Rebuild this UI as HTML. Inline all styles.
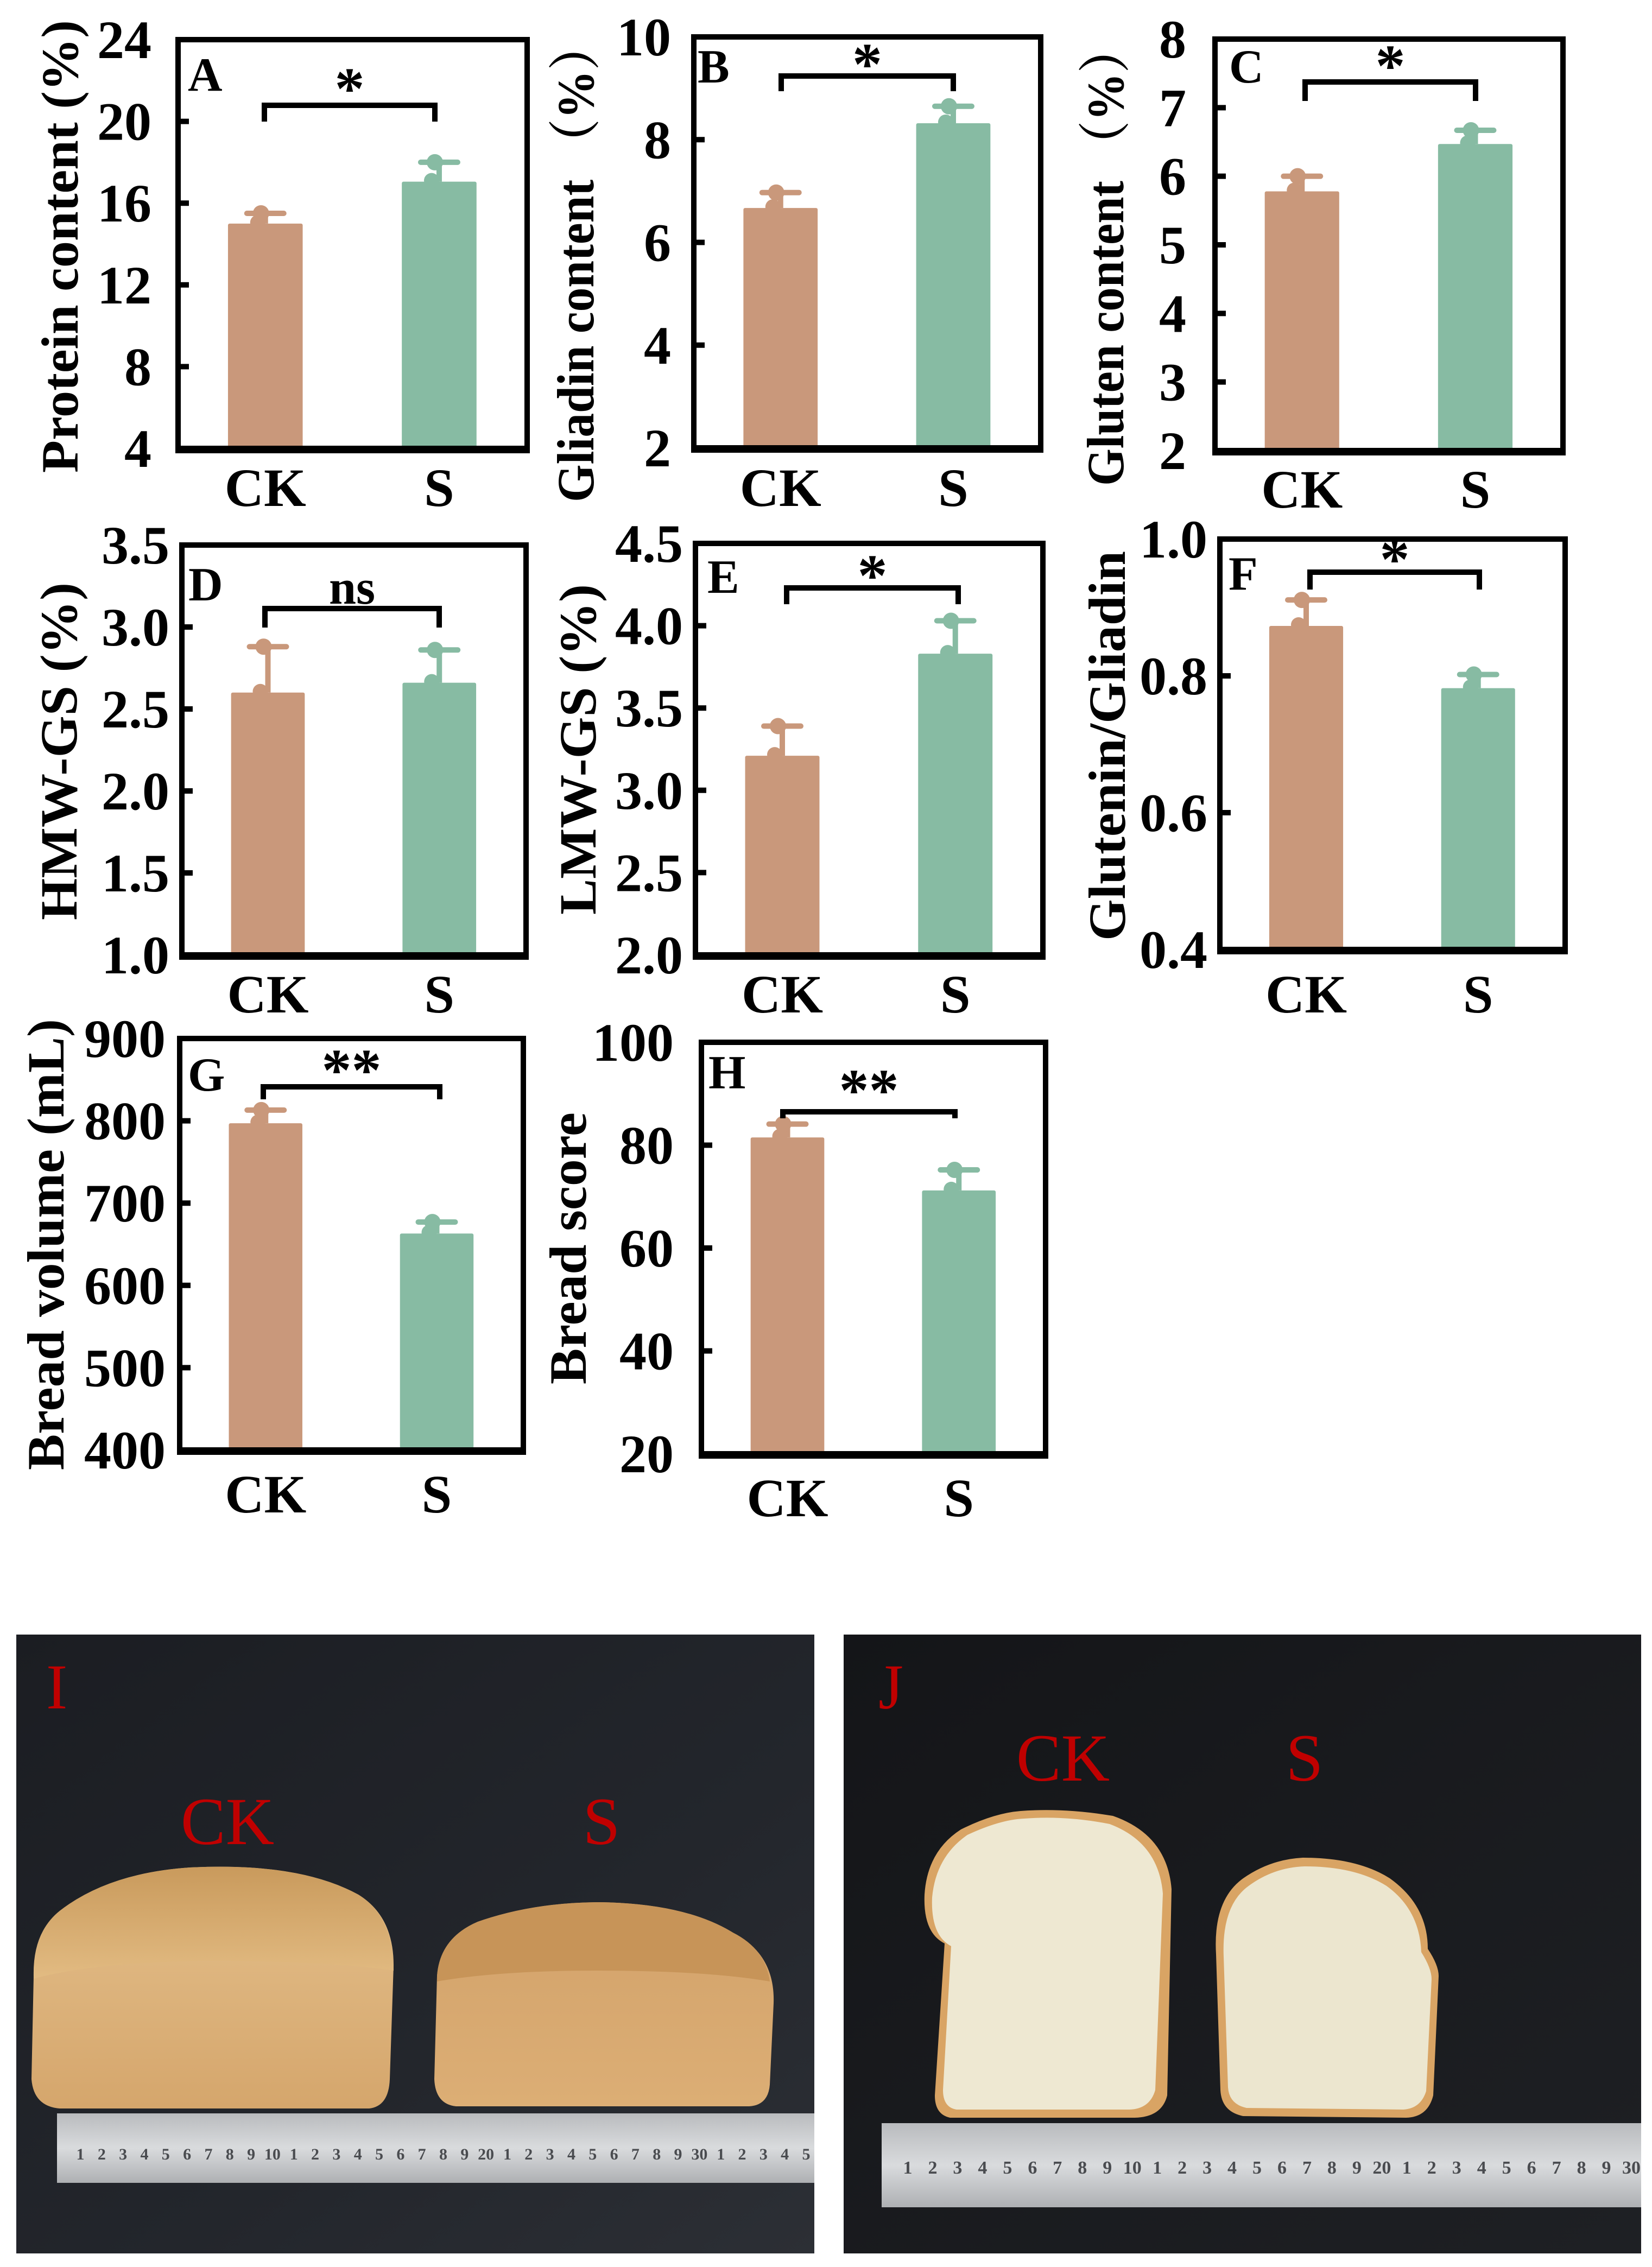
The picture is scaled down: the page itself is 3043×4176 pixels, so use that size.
<!DOCTYPE html>
<html><head><meta charset="utf-8">
<style>
html,body{margin:0;padding:0;background:#fff;}
svg{display:block;}
text{font-family:"Liberation Serif","Times New Roman",serif;}
</style></head>
<body>
<svg id="fig" width="3043" height="4176" viewBox="0 0 3043 4176" xmlns="http://www.w3.org/2000/svg">
<defs>
<linearGradient id="bgI" x1="0" y1="0" x2="1" y2="1"><stop offset="0" stop-color="#1b1d22"/><stop offset="0.6" stop-color="#23262c"/><stop offset="1" stop-color="#2c2f35"/></linearGradient>
<linearGradient id="bgJ" x1="0" y1="0" x2="1" y2="1"><stop offset="0" stop-color="#141518"/><stop offset="1" stop-color="#1e2024"/></linearGradient>
<linearGradient id="crustTop" x1="0" y1="0" x2="0" y2="1"><stop offset="0" stop-color="#c99a5c"/><stop offset="1" stop-color="#e2bb82"/></linearGradient>
<linearGradient id="crustSide" x1="0" y1="0" x2="0" y2="1"><stop offset="0" stop-color="#e4c08c"/><stop offset="1" stop-color="#d5a66c"/></linearGradient>
<linearGradient id="sideS" x1="0" y1="0" x2="0" y2="1"><stop offset="0" stop-color="#d2a26a"/><stop offset="1" stop-color="#dcae75"/></linearGradient>
<linearGradient id="ruler" x1="0" y1="0" x2="0" y2="1"><stop offset="0" stop-color="#b9bbbe"/><stop offset="0.5" stop-color="#d9dbdd"/><stop offset="1" stop-color="#aeb0b3"/></linearGradient>
</defs>
<g id="charts"></g>
<g id="photos"></g>
</svg>
<script>
const NS = 'http://www.w3.org/2000/svg';
const categories = ['CK', 'S'];
const colors = ['#c9987b', '#87bba3'];

const valuesA = [15.0, 17.05];  const errorsA = [0.5, 0.95];  const ticksA = [4, 8, 12, 16, 20, 24];
const valuesB = [6.67, 8.32];   const errorsB = [0.3, 0.33];  const ticksB = [2, 4, 6, 8, 10];
const valuesC = [5.78, 6.47];   const errorsC = [0.22, 0.2];  const ticksC = [2, 3, 4, 5, 6, 7, 8];
const valuesD = [2.60, 2.66];   const errorsD = [0.28, 0.2];  const ticksD = [1.0, 1.5, 2.0, 2.5, 3.0, 3.5];
const valuesE = [3.21, 3.83];   const errorsE = [0.18, 0.2];  const ticksE = [2.0, 2.5, 3.0, 3.5, 4.0, 4.5];
const valuesF = [0.873, 0.782]; const errorsF = [0.038, 0.02]; const ticksF = [0.4, 0.6, 0.8, 1.0];
const valuesG = [797, 663];     const errorsG = [16, 14];     const ticksG = [400, 500, 600, 700, 800, 900];
const valuesH = [81.5, 71.2];   const errorsH = [2.6, 4.0];   const ticksH = [20, 40, 60, 80, 100];
const sigLabels = ['*', '*', '*', 'ns', '*', '*', '**', '**'];
const yTitles = ['Protein content (%)', 'Gliadin content （%）', 'Gluten content （%）', 'HMW-GS (%)', 'LMW-GS (%)', 'Glutenin/Gliadin', 'Bread volume (mL)', 'Bread score'];

const panels = [
 {id:'A', v:valuesA, e:errorsA, t:ticksA, dec:0, L:328, R:971, T:73, B:826, lx:279, tx:109, ty0:37, ty1:871, catY:932, ltx:346, lty:167, brY:194, brD:30, brX0:487, brX1:801, sY:158},
 {id:'B', v:valuesB, e:errorsB, t:ticksB, dec:0, L:1278, R:1917, T:68, B:825, lx:1236, tx:1059, ty0:40, ty1:925, catY:932, ltx:1285, lty:152, brY:140, brD:28, brX0:1439, brX1:1756, sY:113},
 {id:'C', v:valuesC, e:errorsC, t:ticksC, dec:0, L:2238, R:2879, T:72, B:830, lx:2185, tx:2035, ty0:46, ty1:895, catY:935, ltx:2264, lty:152, brY:151, brD:35, brX0:2404, brX1:2718, sY:116},
 {id:'D', v:valuesD, e:errorsD, t:ticksD, dec:1, L:335, R:969, T:1004, B:1759, lx:312, tx:107, ty0:1073, ty1:1695, catY:1865, ltx:347, lty:1106, brY:1121, brD:35, brX0:488, brX1:809, sY:1086},
 {id:'E', v:valuesE, e:errorsE, t:ticksE, dec:1, L:1281, R:1921, T:1001, B:1759, lx:1258, tx:1063, ty0:1076, ty1:1685, catY:1865, ltx:1303, lty:1092, brY:1083, brD:30, brX0:1449, brX1:1765, sY:1055},
 {id:'F', v:valuesF, e:errorsF, t:ticksF, dec:1, L:2247, R:2883, T:993, B:1749, lx:2224, tx:2038, ty0:1015, ty1:1733, catY:1865, ltx:2263, lty:1086, brY:1054, brD:32, brX0:2413, brX1:2725, sY:1025},
 {id:'G', v:valuesG, e:errorsG, t:ticksG, dec:0, L:331, R:964, T:1913, B:2671, lx:305, tx:83, ty0:1877, ty1:2708, catY:2786, ltx:346, lty:2009, brY:2002, brD:23, brX0:485, brX1:810, sY:1966},
 {id:'H', v:valuesH, e:errorsH, t:ticksH, dec:0, L:1292, R:1926, T:1920, B:2678, lx:1241, tx:1045, ty0:2049, ty1:2550, catY:2793, ltx:1305, lty:2005, brY:2048, brD:12, brX0:1442, brX1:1759, sY:2003}
];
const barCenterFrac = [0.25, 0.748];
const barWidthFrac = 0.214;

function mk(tag, attrs, parent) {
  const el = document.createElementNS(NS, tag);
  for (const k in attrs) el.setAttribute(k, attrs[k]);
  parent.appendChild(el);
  return el;
}
const chartsG = document.getElementById('charts');

panels.forEach((p, pi) => {
  const g = mk('g', {}, chartsG);
  
  
  const lo = p.t[0], hi = p.t[p.t.length - 1];
  const y = v => p.B - (v - lo) / (hi - lo) * (p.B - p.T);
  const W = p.R - p.L;
  const xc = i => p.L + barCenterFrac[i] * W;
  const bw = barWidthFrac * W;

  p.v.forEach((val, i) => {
    const bar = mk('rect', {x: xc(i) - bw / 2, y: y(val), width: bw, height: p.B - y(val), fill: colors[i], rx: 3}, g);
    
    
    const eg = mk('g', {fill: colors[i], stroke: colors[i]}, g);
    
    
    const yt = y(val + p.e[i]);
    mk('line', {x1: xc(i), x2: xc(i), y1: y(val), y2: yt, 'stroke-width': 10}, eg);
    mk('line', {x1: xc(i) - 34, x2: xc(i) + 34, y1: yt, y2: yt, 'stroke-width': 10, 'stroke-linecap': 'round'}, eg);
    mk('circle', {cx: xc(i) - 8, cy: yt, r: 15, stroke: 'none'}, eg);
    mk('circle', {cx: xc(i) - 14, cy: y(val) - 2, r: 14, stroke: 'none'}, eg);
  });

  const box = mk('rect', {x: p.L, y: p.T, width: W, height: p.B - p.T, fill: 'none', stroke: '#000', 'stroke-width': 10}, g);
  
  
  mk('line', {x1: p.L - 5, x2: p.R + 5, y1: p.B + 2, y2: p.B + 2, stroke: '#000', 'stroke-width': 14}, g);

  p.t.forEach(tv => {
    mk('line', {x1: p.L, x2: p.L + 20, y1: y(tv), y2: y(tv), stroke: '#000', 'stroke-width': 10}, g);
    const tl = mk('text', {x: p.lx, y: y(tv) + 34, 'font-size': 100, 'font-weight': 'bold', 'text-anchor': 'end'}, g);
    tl.textContent = p.dec ? tv.toFixed(p.dec) : String(tv);
    
    
  });

  categories.forEach((c, i) => {
    const cl = mk('text', {x: xc(i), y: p.catY, 'font-size': 100, 'font-weight': 'bold', 'text-anchor': 'middle'}, g);
    cl.textContent = c;
    
    
  });

  const cy = (p.ty0 + p.ty1) / 2;
  const yt = mk('text', {x: 0, y: 0, 'font-size': 96, 'font-weight': 'bold', 'text-anchor': 'middle',
    transform: 'translate(' + (p.tx + 34) + ',' + cy + ') rotate(-90)',
    textLength: (p.ty1 - p.ty0), lengthAdjust: 'spacingAndGlyphs',
    style: 'font-family:"Liberation Serif","Noto Serif CJK SC",serif'}, g);
  yt.textContent = yTitles[pi];
  
  

  const lt = mk('text', {x: p.ltx, y: p.lty, 'font-size': 88, 'font-weight': 'bold'}, g);
  lt.textContent = p.id;
  
  

  const br = mk('path', {d: 'M' + p.brX0 + ' ' + (p.brY + p.brD) + ' V' + p.brY + ' H' + p.brX1 + ' V' + (p.brY + p.brD),
    fill: 'none', stroke: '#000', 'stroke-width': 10}, g);
  
  
  const isNs = sigLabels[pi] === 'ns';
  const st = mk('text', {x: (p.brX0 + p.brX1) / 2, y: isNs ? p.sY + 26 : p.sY + 42, 'font-size': isNs ? 90 : 110, 'font-weight': 'bold', 'text-anchor': 'middle'}, g);
  st.textContent = sigLabels[pi];
  
  
});

const ph = document.getElementById('photos');
function rulerNums(g, x0, x1, y, labels, fs) {
  const step = (x1 - x0) / (labels.length - 1);
  labels.forEach((s, i) => {
    const t = mk('text', {x: x0 + i * step, y: y, 'font-size': fs, 'font-weight': 'bold', 'text-anchor': 'middle', fill: '#4a4c50'}, g);
    t.textContent = s;
  });
}
{
  const g = mk('g', {}, ph);
  
  
  mk('rect', {x: 30, y: 3011, width: 1470, height: 1140, fill: 'url(#bgI)'}, g);
  const ck = mk('g', {}, g);
  
  
  mk('path', {d: 'M58 3830 L62 3640 Q60 3560 110 3520 Q200 3450 350 3440 Q550 3430 660 3490 Q725 3530 725 3620 L718 3830 Q716 3880 680 3884 L110 3884 Q62 3880 58 3830 Z', fill: 'url(#crustSide)'}, ck);
  mk('path', {d: 'M62 3645 Q60 3560 110 3520 Q200 3450 350 3440 Q550 3430 660 3490 Q725 3530 725 3630 Q600 3612 380 3612 Q170 3615 62 3645 Z', fill: 'url(#crustTop)'}, ck);
  const sl = mk('g', {}, g);
  
  
  mk('path', {d: 'M800 3830 L805 3640 Q810 3570 880 3540 Q980 3505 1100 3504 Q1260 3505 1350 3560 Q1428 3600 1425 3690 L1418 3840 Q1415 3878 1380 3880 L840 3880 Q802 3876 800 3830 Z', fill: 'url(#sideS)'}, sl);
  mk('path', {d: 'M805 3640 Q810 3570 880 3540 Q980 3505 1100 3504 Q1260 3505 1350 3560 Q1410 3590 1418 3650 Q1300 3630 1100 3630 Q920 3630 805 3650 Z', fill: '#c79458'}, sl);
  const r = mk('g', {}, g);
  
  
  mk('rect', {x: 105, y: 3893, width: 1395, height: 128, fill: 'url(#ruler)'}, r);
  rulerNums(r, 148, 1485, 3978, ['1','2','3','4','5','6','7','8','9','10','1','2','3','4','5','6','7','8','9','20','1','2','3','4','5','6','7','8','9','30','1','2','3','4','5'], 30);
  const li = mk('text', {x: 85, y: 3147, 'font-size': 118, fill: '#c00000'}, g);
  li.textContent = 'I';
  
  
  const lck = mk('text', {x: 419, y: 3397, 'font-size': 124, fill: '#c00000', 'text-anchor': 'middle'}, g);
  lck.textContent = 'CK';
  
  
  const ls = mk('text', {x: 1108, y: 3397, 'font-size': 124, fill: '#c00000', 'text-anchor': 'middle'}, g);
  ls.textContent = 'S';
  
  
}
{
  const g = mk('g', {}, ph);
  
  
  mk('rect', {x: 1554, y: 3011, width: 1469, height: 1140, fill: 'url(#bgJ)'}, g);
  const ck = mk('g', {}, g);
  
  
  mk('path', {d: 'M1740 3580 Q1700 3560 1703 3490 Q1708 3410 1770 3370 Q1830 3340 1880 3336 Q1960 3330 2050 3345 Q2150 3380 2158 3480 L2150 3860 Q2140 3900 2090 3901 L1750 3901 Q1722 3895 1722 3860 Z', fill: '#d9a464'}, ck);
  mk('path', {d: 'M1752 3585 Q1714 3565 1717 3495 Q1724 3420 1782 3380 Q1842 3352 1886 3350 Q1963 3344 2044 3360 Q2134 3394 2142 3488 L2128 3850 Q2118 3885 2080 3886 L1762 3886 Q1737 3882 1737 3850 Z', fill: '#eee8d2'}, ck);
  const sl = mk('g', {}, g);
  
  
  mk('path', {d: 'M2240 3600 Q2234 3500 2290 3460 Q2340 3425 2400 3422 Q2500 3422 2560 3460 Q2630 3510 2630 3590 Q2650 3620 2650 3640 L2640 3860 Q2630 3900 2590 3901 L2290 3898 Q2250 3890 2248 3850 Z', fill: '#d9a464'}, sl);
  mk('path', {d: 'M2254 3605 Q2250 3510 2300 3474 Q2346 3440 2403 3438 Q2497 3438 2554 3474 Q2615 3518 2618 3596 Q2637 3626 2637 3646 L2627 3852 Q2617 3884 2585 3886 L2296 3883 Q2264 3876 2262 3845 Z', fill: '#ece6cf'}, sl);
  const r = mk('g', {}, g);
  
  
  mk('rect', {x: 1624, y: 3911, width: 1399, height: 155, fill: 'url(#ruler)'}, r);
  rulerNums(r, 1672, 3005, 4004, ['1','2','3','4','5','6','7','8','9','10','1','2','3','4','5','6','7','8','9','20','1','2','3','4','5','6','7','8','9','30'], 34);
  const lj = mk('text', {x: 1618, y: 3147, 'font-size': 118, fill: '#c00000'}, g);
  lj.textContent = 'J';
  
  
  const lck = mk('text', {x: 1958, y: 3280, 'font-size': 124, fill: '#c00000', 'text-anchor': 'middle'}, g);
  lck.textContent = 'CK';
  
  
  const ls = mk('text', {x: 2403, y: 3280, 'font-size': 124, fill: '#c00000', 'text-anchor': 'middle'}, g);
  ls.textContent = 'S';
  
  
}
</script>
</body></html>
